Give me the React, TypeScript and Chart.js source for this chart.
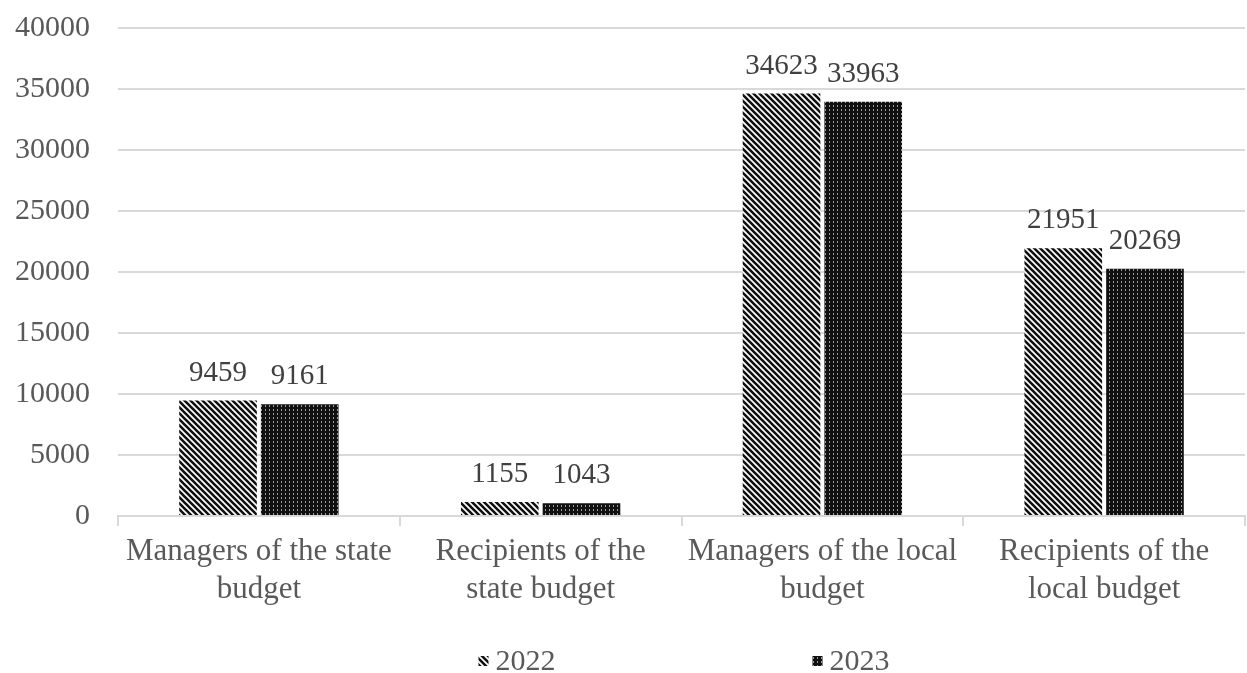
import React, { useEffect, useRef } from "react";
import { Chart, registerables } from "chart.js";

Chart.register(...registerables);

const categories: string[][] = [
  ["Managers of the state", "budget"],
  ["Recipients of the", "state budget"],
  ["Managers of the local", "budget"],
  ["Recipients of the", "local budget"],
];
const seriesNames = ["2022", "2023"];
const values2022 = [9459, 1155, 34623, 21951];
const values2023 = [9161, 1043, 33963, 20269];
const yTicks = [0, 5000, 10000, 15000, 20000, 25000, 30000, 35000, 40000];

const FONT = "'Liberation Serif', 'Times New Roman', serif";

function makeStripe(): CanvasPattern | string {
  const c = document.createElement("canvas");
  c.width = 6;
  c.height = 6;
  const ctx = c.getContext("2d");
  if (!ctx) return "#333";
  ctx.fillStyle = "#fff";
  ctx.fillRect(0, 0, 6, 6);
  ctx.strokeStyle = "#111";
  ctx.lineWidth = 2.6;
  ctx.beginPath();
  for (let k = -6; k <= 12; k += 6) {
    ctx.moveTo(k - 3, -3);
    ctx.lineTo(k + 9, 9);
  }
  ctx.stroke();
  return ctx.createPattern(c, "repeat") as CanvasPattern;
}

function makeDots(): CanvasPattern | string {
  const c = document.createElement("canvas");
  c.width = 4;
  c.height = 4;
  const ctx = c.getContext("2d");
  if (!ctx) return "#111";
  ctx.fillStyle = "#101010";
  ctx.fillRect(0, 0, 4, 4);
  ctx.fillStyle = "#9a9a9a";
  ctx.fillRect(1, 1, 1, 2);
  return ctx.createPattern(c, "repeat") as CanvasPattern;
}

export default function App() {
  const ref = useRef<HTMLCanvasElement | null>(null);
  useEffect(() => {
    document.body.style.margin = "0";
    if (!ref.current) return;
    const p1 = makeStripe();
    const p2 = makeDots();

    const labelPlugin = {
      id: "valueLabels",
      afterDatasetsDraw(chart: any) {
        const ctx = chart.ctx;
        ctx.save();
        ctx.font = `29px ${FONT}`;
        ctx.fillStyle = "#404040";
        ctx.textAlign = "center";
        ctx.textBaseline = "alphabetic";
        chart.data.datasets.forEach((ds: any, di: number) => {
          const meta = chart.getDatasetMeta(di);
          meta.data.forEach((el: any, i: number) => {
            ctx.fillText(String(ds.data[i]), el.x, el.y - 20);
          });
        });
        ctx.restore();
      },
    };

    const legendPlugin = {
      id: "customLegend",
      afterDraw(chart: any) {
        const ctx = chart.ctx;
        const cx = chart.width / 2;
        const y = chart.height - 12;
        const items = [
          { x: cx - 145, fill: p1, text: seriesNames[0] },
          { x: cx + 189, fill: p2, text: seriesNames[1] },
        ];
        ctx.save();
        ctx.font = `30px ${FONT}`;
        ctx.textBaseline = "middle";
        ctx.textAlign = "left";
        items.forEach((it) => {
          ctx.fillStyle = it.fill;
          ctx.fillRect(it.x, y - 5, 10, 10);
          ctx.fillStyle = "#595959";
          ctx.fillText(it.text, it.x + 17, y + 1);
        });
        ctx.restore();
      },
    };

    const chart = new Chart(ref.current, {
      type: "bar",
      data: {
        labels: categories,
        datasets: [
          {
            label: seriesNames[0],
            data: values2022,
            backgroundColor: p1 as any,
            borderWidth: 0,
            barPercentage: 0.95,
            categoryPercentage: 0.58,
          },
          {
            label: seriesNames[1],
            data: values2023,
            backgroundColor: p2 as any,
            borderWidth: 0,
            barPercentage: 0.95,
            categoryPercentage: 0.58,
          },
        ],
      },
      options: {
        animation: false,
        responsive: false,
        maintainAspectRatio: false,
        layout: { padding: { top: 28, right: 2, left: 0, bottom: 0 } },
        plugins: {
          legend: { display: false },
          tooltip: { enabled: false },
        },
        scales: {
          x: {
            grid: {
              offset: true,
              drawOnChartArea: false,
              drawTicks: true,
              tickLength: 10,
              color: "#d9d9d9",
              lineWidth: 2,
            },
            border: { color: "#d9d9d9", width: 2 },
            ticks: {
              color: "#595959",
              font: { family: FONT, size: 31, lineHeight: 1.25 },
              padding: 6,
              maxRotation: 0,
              autoSkip: false,
            },
            afterFit(scale: any) {
              scale.height = 157;
              scale.paddingLeft = 0;
              scale.paddingRight = 0;
            },
          },
          y: {
            min: 0,
            max: 40000,
            afterBuildTicks(scale: any) {
              scale.ticks = yTicks.map((v) => ({ value: v }));
            },
            grid: {
              color: "#d9d9d9",
              lineWidth: 2,
              drawTicks: false,
            },
            border: { display: false },
            ticks: {
              color: "#595959",
              font: { family: FONT, size: 30 },
              padding: 28,
              callback: (v: any) => String(v),
            },
            afterFit(scale: any) {
              scale.width = 118;
              scale.paddingTop = 0;
              scale.paddingBottom = 0;
            },
          },
        },
      },
      plugins: [labelPlugin, legendPlugin],
    } as any);
    return () => chart.destroy();
  }, []);
  return (
    <div style={{ width: 1247, height: 673 }}>
      <canvas ref={ref} width={1247} height={673} style={{ display: "block" }} />
    </div>
  );
}
